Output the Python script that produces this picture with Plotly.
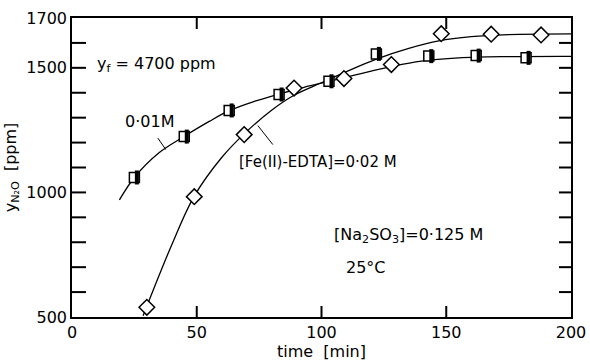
import plotly.graph_objects as go

# ---- data ----
sq_x = [25, 45, 63, 83, 103, 122, 143, 162, 182]
sq_y = [1060, 1224, 1329, 1393, 1446, 1556, 1547, 1549, 1540]

dia_x = [30, 49, 69, 89, 109, 128, 148, 168, 188]
dia_y = [539, 983, 1232, 1419, 1457, 1513, 1637, 1635, 1632]

# smooth fitted curves
sq_curve_x = [19, 25, 35, 45, 55, 63, 73, 83, 93, 103, 115, 128, 140, 155, 175, 200]
sq_curve_y = [970, 1060, 1160, 1225, 1285, 1328, 1365, 1395, 1422, 1446, 1475, 1505, 1527, 1540, 1545, 1546]

dia_curve_x = [28.5, 40, 49, 60, 69, 80, 89, 100, 110, 122, 135, 147, 160, 175, 200]
dia_curve_y = [505, 790, 985, 1140, 1235, 1330, 1390, 1440, 1485, 1535, 1578, 1608, 1625, 1633, 1636]

x_ticks = [0, 50, 100, 150, 200]
x_inner_ticks = [50, 100, 150]
y_ticks = [500, 1000, 1500, 1700]
y_all_ticks = list(range(600, 1700, 100))

# leader lines (label -> curve), in data units
lead1_x = [34.4, 37.6]
lead1_y = [1218, 1172]
lead2_x = [74.5, 80.5]
lead2_y = [1268, 1192]

X_RANGE = [0, 200]
Y_RANGE = [500, 1700]

FONT = "DejaVu Sans"
fig = go.Figure()

fig.add_trace(go.Scatter(x=sq_curve_x, y=sq_curve_y, mode="lines",
                         line=dict(color="black", width=1.3, shape="spline", smoothing=1.0),
                         hoverinfo="skip"))
fig.add_trace(go.Scatter(x=dia_curve_x, y=dia_curve_y, mode="lines",
                         line=dict(color="black", width=1.3, shape="spline", smoothing=1.0),
                         hoverinfo="skip"))
fig.add_trace(go.Scatter(x=lead1_x, y=lead1_y, mode="lines",
                         line=dict(color="black", width=1), hoverinfo="skip"))
fig.add_trace(go.Scatter(x=lead2_x, y=lead2_y, mode="lines",
                         line=dict(color="black", width=1), hoverinfo="skip"))

# diamonds
fig.add_trace(go.Scatter(x=dia_x, y=dia_y, mode="markers",
                         marker=dict(symbol="diamond", size=12, color="white",
                                     line=dict(color="black", width=1.5))))
# squares (half-filled: white square + black right half)
fig.add_trace(go.Scatter(x=sq_x, y=sq_y, mode="markers",
                         marker=dict(symbol="square", size=10, color="white",
                                     line=dict(color="black", width=1.5))))
fig.add_trace(go.Scatter(x=[v + 1.0 for v in sq_x], y=sq_y, mode="markers",
                         marker=dict(symbol="line-ns", size=10,
                                     line=dict(color="black", width=4))))

ann = dict(showarrow=False, xanchor="left", yanchor="middle",
           font=dict(family=FONT, size=16, color="black"))
fig.add_annotation(x=9.2, y=1515, text="y<sub>f</sub> = 4700 ppm", **ann)
fig.add_annotation(x=20.4, y=1283, text="0·01M", **ann)
fig.add_annotation(x=66, y=1122, text="[Fe(II)-EDTA]=0·02 M",
                   **{**ann, "font": dict(family=FONT, size=15, color="black")})
fig.add_annotation(x=104.4, y=829, text="[Na<sub>2</sub>SO<sub>3</sub>]=0·125 M",
                   **{**ann, "font": dict(family=FONT, size=16, color="black")})
fig.add_annotation(x=109.2, y=697, text="25°C", **ann)

# inward tick marks on all four sides, positioned on the axis scales, sized in pixels
tick_line = dict(color="black", width=2)
for v in y_all_ticks:
    fig.add_shape(type="line", xref="x", yref="y", xsizemode="pixel", xanchor=X_RANGE[0],
                  x0=0, x1=14, y0=v, y1=v, line=tick_line, layer="above")
    fig.add_shape(type="line", xref="x", yref="y", xsizemode="pixel", xanchor=X_RANGE[1],
                  x0=-12, x1=0, y0=v, y1=v, line=tick_line, layer="above")
for v in x_inner_ticks:
    fig.add_shape(type="line", xref="x", yref="y", ysizemode="pixel", yanchor=Y_RANGE[0],
                  y0=0, y1=11, x0=v, x1=v, line=tick_line, layer="above")
    fig.add_shape(type="line", xref="x", yref="y", ysizemode="pixel", yanchor=Y_RANGE[1],
                  y0=-11, y1=0, x0=v, x1=v, line=tick_line, layer="above")

fig.update_layout(
    width=590, height=361,
    margin=dict(l=72, r=19, t=18, b=44),
    paper_bgcolor="white", plot_bgcolor="white",
    showlegend=False,
    font=dict(family=FONT, size=16, color="black"),
    xaxis=dict(range=X_RANGE, tickvals=x_ticks, ticktext=[str(v) for v in x_ticks],
               ticks="", showline=True, linecolor="black", linewidth=1.6, mirror=True,
               showgrid=False, zeroline=False, automargin=False,
               tickfont=dict(family=FONT, size=16),
               title=dict(text="time  [min]", font=dict(family=FONT, size=16), standoff=4)),
    yaxis=dict(range=Y_RANGE, tickvals=y_ticks, ticktext=[str(v) for v in y_ticks],
               ticks="", showline=True, linecolor="black", linewidth=1.6, mirror=True,
               showgrid=False, zeroline=False, automargin=False,
               tickfont=dict(family=FONT, size=16),
               title=dict(text="y<sub>N₂O</sub>  [ppm]", font=dict(family=FONT, size=16), standoff=6)),
)

fig.write_html("out.html")
